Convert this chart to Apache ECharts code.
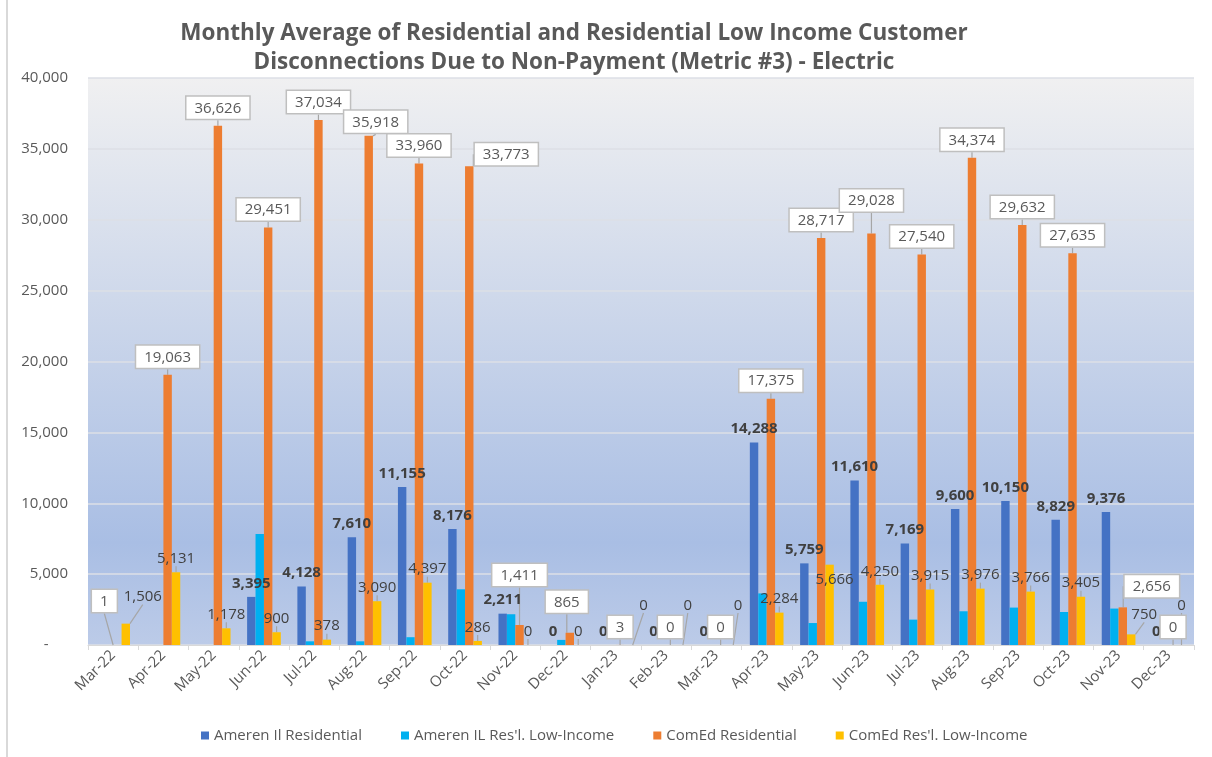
<!DOCTYPE html>
<html>
<head>
<meta charset="utf-8">
<title>Disconnections Due to Non-Payment</title>
<script src="https://cdn.jsdelivr.net/npm/echarts@6/dist/echarts.min.js"></script>
<style>
  html, body { margin: 0; padding: 0; background: #fff; }
  #chart { width: 1212px; height: 757px; }
</style>
</head>
<body>
<div id="chart"></div>
<script>
// months on the x axis
const categories = ['Mar-22', 'Apr-22', 'May-22', 'Jun-22', 'Jul-22', 'Aug-22', 'Sep-22', 'Oct-22', 'Nov-22', 'Dec-22',
  'Jan-23', 'Feb-23', 'Mar-23', 'Apr-23', 'May-23', 'Jun-23', 'Jul-23', 'Aug-23', 'Sep-23', 'Oct-23', 'Nov-23', 'Dec-23'];

const amerenResidential = [null, null, null, 3395, 4128, 7610, 11155, 8176, 2211, 0,
  0, 0, 0, 14288, 5759, 11610, 7169, 9600, 10150, 8829, 9376, 0];
// low-income values are not labelled in the source
const amerenLowIncome = [null, null, null, 7830, 260, 260, 550, 3930, 2170, 360,
  null, null, null, 3640, 1550, 3050, 1790, 2380, 2640, 2330, 2570, null];
const comedResidential = [1, 19063, 36626, 29451, 37034, 35918, 33960, 33773, 1411, 865,
  3, 0, 0, 17375, 28717, 29028, 27540, 34374, 29632, 27635, 2656, 0];
const comedLowIncome = [1506, 5131, 1178, 900, 378, 3090, 4397, 286, 0, 0,
  0, 0, 0, 2284, 5666, 4250, 3915, 3976, 3766, 3405, 750, 0];

const seriesNames = ['Ameren Il Residential', "Ameren IL Res'l. Low-Income", 'ComEd Residential', "ComEd Res'l. Low-Income"];
const yTicks = { min: 0, max: 40000, step: 5000 };

// hand-placed data labels in the original (Excel) chart: [dx, dy] by series index -> data index
const labelNudges = {
  2: { 0: [-13, -26], 5: [7, 4], 7: [37, 6], 8: [0, -32], 9: [-3, -13], 15: [0, -15], 20: [29, -3] },
  3: { 0: [17, -13], 10: [15, -26], 11: [9, -26], 12: [9, -26], 14: [5, 29], 20: [13, -6], 21: [0, -26] }
};

const FONT = '"Open Sans", "Liberation Sans", sans-serif';
const fmt = (v) => Number(v).toLocaleString('en-US');

const nudge = (params) => {
  const n = (labelNudges[params.seriesIndex] || {})[params.dataIndex];
  return n ? { dx: n[0], dy: n[1] } : {};
};

const chart = echarts.init(document.getElementById('chart'));

chart.setOption({
  animation: false,
  color: ['#4472C4', '#00B0F0', '#ED7D31', '#FFC000'],
  textStyle: { fontFamily: FONT },
  graphic: [
    {
      type: 'text',
      x: 574,
      y: 19,
      style: {
        text: 'Monthly Average of Residential and Residential Low Income Customer\nDisconnections Due to Non-Payment (Metric #3) - Electric',
        textAlign: 'center',
        fill: '#595959',
        font: 'bold 22.5px ' + FONT,
        lineHeight: 29
      }
    },
    {
      type: 'line',
      shape: { x1: 7, y1: 0, x2: 7, y2: 757 },
      style: { stroke: '#D9D9D9', lineWidth: 2 }
    }
  ],
  grid: {
    left: 88,
    right: 18,
    top: 78,
    bottom: 112,
    show: true,
    borderWidth: 0,
    backgroundColor: new echarts.graphic.LinearGradient(0, 0, 0, 1, [
      { offset: 0, color: '#F0F0F1' },
      { offset: 0.82, color: '#A9BEE4' },
      { offset: 1, color: '#BCCBE8' }
    ])
  },
  legend: {
    bottom: 9,
    left: 196,
    itemWidth: 8,
    itemHeight: 8,
    itemGap: 39,
    icon: 'rect',
    textStyle: { color: '#595959', fontSize: 15, fontFamily: FONT },
    data: seriesNames
  },
  xAxis: {
    type: 'category',
    data: categories,
    axisLine: { lineStyle: { color: '#D9D9D9', width: 1 } },
    axisTick: { show: true, length: 5, lineStyle: { color: '#D9D9D9' } },
    axisLabel: { rotate: 45, color: '#595959', fontSize: 15, margin: 8, interval: 0 }
  },
  yAxis: {
    type: 'value',
    min: yTicks.min,
    max: yTicks.max,
    interval: yTicks.step,
    axisLine: { show: false },
    axisTick: { show: false },
    splitLine: { lineStyle: { color: '#DCDFE6', width: 1.5 } },
    axisLabel: {
      color: '#595959',
      fontSize: 15,
      margin: 20,
      formatter: (v) => (v === 0 ? '-     ' : fmt(v))
    }
  },
  series: [
    {
      name: seriesNames[0],
      type: 'bar',
      data: amerenResidential,
      barGap: '0%',
      barCategoryGap: '33%',
      label: {
        show: true,
        position: 'top',
        distance: 6,
        color: '#404040',
        fontWeight: 'bold',
        fontSize: 15,
        formatter: (p) => fmt(p.value)
      }
    },
    {
      name: seriesNames[1],
      type: 'bar',
      data: amerenLowIncome,
      barGap: '0%',
      barCategoryGap: '33%'
    },
    {
      name: seriesNames[2],
      type: 'bar',
      data: comedResidential,
      barGap: '0%',
      barCategoryGap: '33%',
      label: {
        show: true,
        position: 'top',
        distance: 7,
        color: '#595959',
        fontSize: 15,
        backgroundColor: '#fff',
        borderColor: '#BFBFBF',
        borderWidth: 1.5,
        padding: [4, 8, 3, 8],
        formatter: (p) => fmt(p.value)
      },
      labelLine: { show: true, lineStyle: { color: '#A6A6A6', width: 1.2 } },
      labelLayout: nudge
    },
    {
      name: seriesNames[3],
      type: 'bar',
      data: comedLowIncome,
      barGap: '0%',
      barCategoryGap: '33%',
      label: {
        show: true,
        position: 'top',
        distance: 6,
        color: '#404040',
        fontSize: 15,
        formatter: (p) => fmt(p.value)
      },
      labelLine: { show: true, lineStyle: { color: '#A6A6A6', width: 1.2 } },
      labelLayout: nudge
    }
  ]
});

window.addEventListener('resize', () => chart.resize());
</script>
</body>
</html>
